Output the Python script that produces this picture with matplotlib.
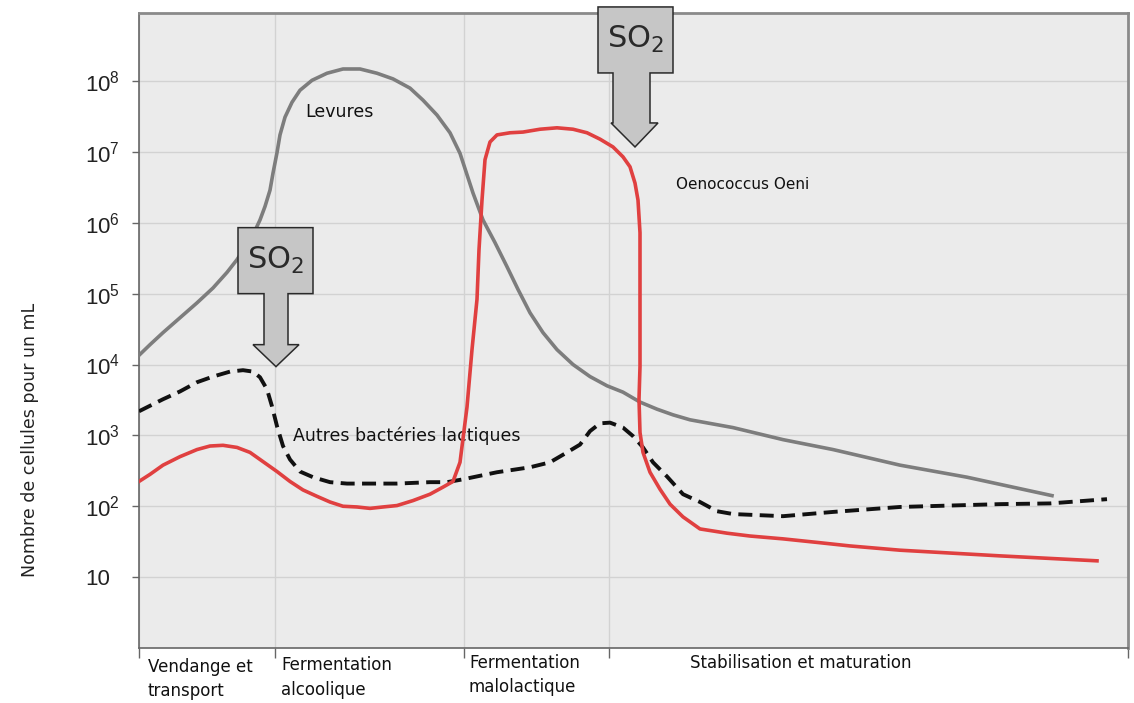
import matplotlib.pyplot as plt
import matplotlib.transforms as mtransforms
import numpy as np
from matplotlib.patches import Polygon

# time axis in arbitrary units, populations as log10(cells per mL)
levures_x = [0, 11, 24, 41, 58, 74, 88, 98, 106, 114, 121, 126, 131, 134, 138, 141, 146, 153,
             161, 173, 188, 204, 221, 238, 254, 271, 284, 298, 311, 321, 334, 344, 356, 368,
             379, 391, 404, 418, 434, 451, 468, 484, 501, 518, 534, 551, 594, 644, 694, 761,
             828, 913]
levures_log = [4.13, 4.28, 4.45, 4.66, 4.87, 5.08, 5.30, 5.48, 5.65, 5.83, 6.04, 6.23, 6.46, 6.70,
               6.99, 7.24, 7.49, 7.70, 7.87, 8.01, 8.11, 8.17, 8.17, 8.11, 8.03, 7.90, 7.73, 7.52,
               7.27, 6.98, 6.42, 6.04, 5.72, 5.38, 5.06, 4.73, 4.45, 4.21, 4.00, 3.83, 3.70, 3.61,
               3.47, 3.37, 3.29, 3.22, 3.11, 2.94, 2.80, 2.58, 2.41, 2.15]

oeni_x = [0, 11, 24, 41, 58, 71, 84, 98, 111, 124, 138, 151, 164, 178, 191, 204, 218, 231, 244,
          258, 274, 291, 304, 314, 321, 328, 333, 338, 340, 343, 346, 351, 358, 371, 384, 401,
          418, 434, 448, 461, 474, 484, 491, 496, 499, 501, 501, 501, 500, 501, 504, 511, 521,
          531, 544, 561, 588, 611, 644, 678, 711, 761, 861, 958]
oeni_log = [2.35, 2.45, 2.58, 2.70, 2.80, 2.85, 2.86, 2.83, 2.76, 2.63, 2.49, 2.35, 2.23, 2.14,
            2.06, 2.00, 1.99, 1.97, 1.99, 2.01, 2.08, 2.17, 2.27, 2.35, 2.62, 3.40, 4.21, 4.92,
            5.62, 6.32, 6.89, 7.14, 7.24, 7.27, 7.28, 7.32, 7.34, 7.32, 7.27, 7.18, 7.07, 6.93,
            6.79, 6.56, 6.32, 5.86, 4.92, 3.97, 3.51, 3.04, 2.76, 2.48, 2.24, 2.03, 1.85, 1.68,
            1.62, 1.58, 1.54, 1.49, 1.44, 1.38, 1.30, 1.23]

autres_x = [0, 24, 41, 58, 74, 91, 104, 114, 121, 128, 133, 138, 144, 151, 161, 174, 191, 208,
            224, 258, 291, 308, 324, 358, 391, 411, 428, 441, 451, 461, 471, 484, 494, 504, 514,
            528, 544, 561, 578, 594, 644, 694, 761, 811, 861, 911, 968]
autres_log = [3.34, 3.51, 3.62, 3.75, 3.83, 3.90, 3.92, 3.90, 3.82, 3.65, 3.41, 3.13, 2.85, 2.66,
              2.49, 2.41, 2.34, 2.32, 2.32, 2.32, 2.34, 2.34, 2.38, 2.48, 2.55, 2.62, 2.76, 2.87,
              3.06, 3.17, 3.18, 3.11, 2.99, 2.83, 2.62, 2.42, 2.17, 2.06, 1.93, 1.89, 1.86, 1.92,
              1.99, 2.01, 2.03, 2.04, 2.10]

phase_bounds = [0, 136, 325, 470, 989]
phase_labels = ['Vendange et\ntransport', 'Fermentation\nalcoolique',
                'Fermentation\nmalolactique', 'Stabilisation et maturation']
label_x = [9, 142, 330, 551]
label_y = [-0.016, -0.013, -0.009, -0.009]

ytick_exp = [1, 2, 3, 4, 5, 6, 7, 8]

# SO2 arrows: tip position (x, log10) and outline in pixels relative to the tip
so2_tips = [(137, 3.97), (496, 7.07)]
so2_shapes = [
    [(-38, 139), (37, 139), (37, 73), (12, 73), (12, 22), (23, 22), (0, 0),
     (-23, 22), (-12, 22), (-12, 73), (-38, 73)],
    [(-37, 140), (38, 140), (38, 74), (15, 74), (15, 24), (23, 24), (0, 0),
     (-24, 24), (-22, 24), (-22, 74), (-37, 74)],
]

fig = plt.figure(figsize=(11.34, 7.03), dpi=100)
ax = fig.add_axes([139 / 1134, 55 / 703, 989 / 1134, 635 / 703])
ax.set_facecolor('#ebebeb')

ax.plot(levures_x, 10 ** np.array(levures_log), color='#7d7d7d', lw=2.6,
        solid_joinstyle='round', zorder=3)
ax.plot(autres_x, 10 ** np.array(autres_log), color='#111111', lw=2.8,
        linestyle=(0, (3.6, 1.9)), zorder=3)
ax.plot(oeni_x, 10 ** np.array(oeni_log), color='#e04040', lw=2.6,
        solid_joinstyle='round', zorder=4)

ax.set_yscale('log')
ax.set_ylim(1, 10 ** 8.96)
ax.set_xlim(phase_bounds[0], phase_bounds[-1])

ax.set_yticks([10 ** e for e in ytick_exp])
ax.set_yticklabels(['10'] + [r'$\mathregular{10^{%d}}$' % e for e in ytick_exp[1:]])
ax.yaxis.set_minor_locator(plt.NullLocator())
ax.set_xticks(phase_bounds)
ax.set_xticklabels([])
ax.tick_params(axis='y', length=5, width=1, color='#666666', pad=34, labelsize=16)
ax.tick_params(axis='x', length=7, width=1, color='#666666')
for lbl in ax.get_yticklabels():
    lbl.set_horizontalalignment('left')
    lbl.set_fontfamily('Liberation Sans')
    lbl.set_color('#222222')

ax.grid(True, color='#d2d2d2', lw=1)
ax.set_axisbelow(True)
for side in ['left', 'bottom']:
    ax.spines[side].set_color('#666666')
    ax.spines[side].set_linewidth(1.2)
for side in ['top', 'right']:
    ax.spines[side].set_color('#8a8a8a')
    ax.spines[side].set_linewidth(2)

for x, y, txt in zip(label_x, label_y, phase_labels):
    ax.text(x, y, txt, transform=ax.get_xaxis_transform(), ha='left', va='top',
            fontsize=12, linespacing=1.45, color='#111111')

ax.text(166, 10 ** 7.56, 'Levures', fontsize=12.5, va='center', color='#111111')
ax.text(537, 10 ** 6.54, 'Oenococcus Oeni', fontsize=11, va='center', color='#111111')
ax.text(154, 10 ** 2.99, 'Autres bactéries lactiques', fontsize=12.5, va='center', color='#111111')

fig.text(30 / 1134, 1 - 440 / 703, 'Nombre de cellules pour un mL', rotation=90,
         ha='center', va='center', fontsize=12.5, color='#222222')

for (tx, ty), shape in zip(so2_tips, so2_shapes):
    trans = fig.dpi_scale_trans + mtransforms.ScaledTranslation(tx, 10 ** ty, ax.transData)
    verts = np.array(shape, dtype=float) / fig.dpi
    ax.add_patch(Polygon(verts, closed=True, facecolor='#c6c6c6', edgecolor='#2a2a2a',
                         lw=1.1, transform=trans, clip_on=False, zorder=6))
    cx = (shape[0][0] + shape[1][0]) / 2 / fig.dpi
    cy = (shape[0][1] + shape[2][1]) / 2 / fig.dpi
    ax.text(cx, cy, r'$\mathregular{SO_2}$', transform=trans, ha='center', va='center',
            fontsize=22, color='#2a2a2a', zorder=7, clip_on=False)

fig.savefig('out.png', dpi=100)
